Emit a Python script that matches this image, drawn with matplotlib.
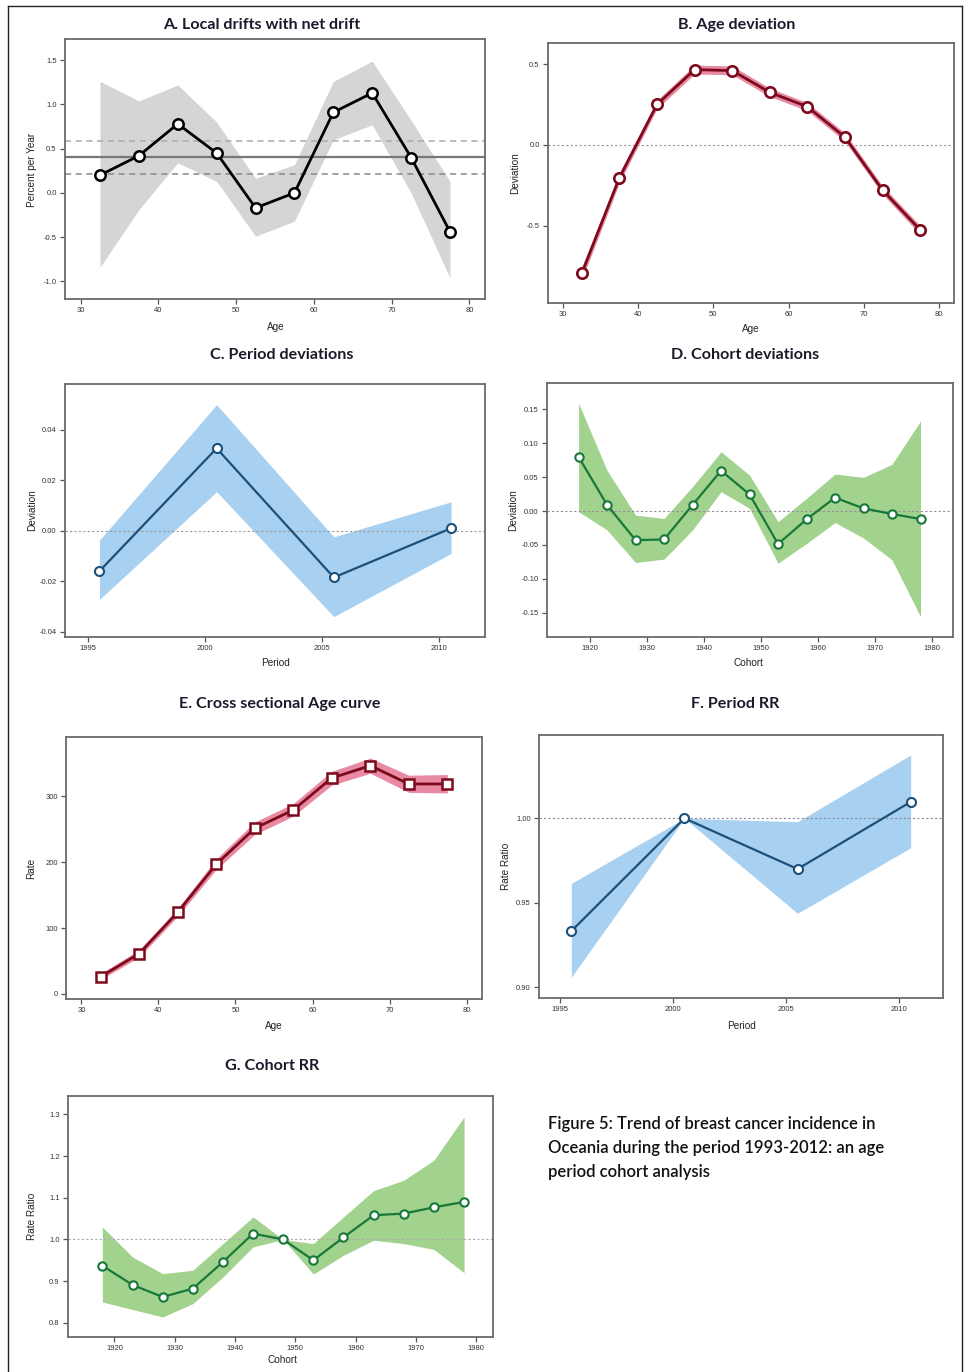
import matplotlib
matplotlib.use("Agg")
import matplotlib.pyplot as plt
from matplotlib.lines import Line2D

# ---------------- data ----------------
age = [32.5, 37.5, 42.5, 47.5, 52.5, 57.5, 62.5, 67.5, 72.5, 77.5]
local_drift = [0.20, 0.42, 0.78, 0.45, -0.17, 0.00, 0.91, 1.13, 0.40, -0.44]
local_drift_lo = [-0.84, -0.19, 0.34, 0.13, -0.49, -0.32, 0.60, 0.77, 0.00, -0.96]
local_drift_hi = [1.26, 1.04, 1.22, 0.80, 0.165, 0.32, 1.26, 1.49, 0.82, 0.13]
net_drift = [0.41, 0.215, 0.59]  # estimate, lower, upper

age_dev = [-0.795, -0.203, 0.251, 0.467, 0.461, 0.326, 0.237, 0.048, -0.280, -0.527]
age_dev_lo = [-0.835, -0.235, 0.225, 0.440, 0.435, 0.300, 0.212, 0.022, -0.305, -0.555]
age_dev_hi = [-0.755, -0.172, 0.278, 0.495, 0.490, 0.352, 0.262, 0.074, -0.255, -0.500]

period = [1995.5, 2000.5, 2005.5, 2010.5]
period_dev = [-0.016, 0.0327, -0.0185, 0.001]
period_dev_lo = [-0.0272, 0.0155, -0.034, -0.009]
period_dev_hi = [-0.0037, 0.050, -0.0024, 0.0115]

cohort = [1918, 1923, 1928, 1933, 1938, 1943, 1948, 1953, 1958, 1963, 1968, 1973, 1978]
cohort_dev = [0.080, 0.009, -0.043, -0.042, 0.009, 0.0595, 0.0246, -0.0487,
              -0.0123, 0.0197, 0.0039, -0.0044, -0.0118]
cohort_dev_lo = [-0.001, -0.028, -0.076, -0.071, -0.028, 0.0285, 0.004, -0.077,
                 -0.048, -0.017, -0.040, -0.072, -0.156]
cohort_dev_hi = [0.159, 0.060, -0.006, -0.011, 0.036, 0.0875, 0.053, -0.0158,
                 0.0187, 0.0546, 0.0497, 0.069, 0.133]

cs_rate = [26.3, 61.2, 124.0, 196.8, 251.4, 279.2, 327.8, 346.5, 318.7, 318.7]
cs_rate_lo = [22, 56, 118, 189, 242, 270, 317, 335, 306, 305]
cs_rate_hi = [31, 67, 130, 205, 261, 289, 338, 358, 332, 333]

period_rr = [0.9333, 1.0, 0.970, 1.0097]
period_rr_lo = [0.906, 1.0, 0.9438, 0.9826]
period_rr_hi = [0.9615, 1.0, 0.998, 1.0375]

cohort_rr = [0.937, 0.891, 0.862, 0.882, 0.946, 1.014, 1.000, 0.950,
             1.005, 1.058, 1.062, 1.077, 1.090]
cohort_rr_lo = [0.850, 0.832, 0.814, 0.846, 0.910, 0.982, 1.000, 0.917,
                0.962, 0.998, 0.990, 0.976, 0.920]
cohort_rr_hi = [1.030, 0.958, 0.918, 0.926, 0.990, 1.054, 1.000, 0.990,
                1.054, 1.117, 1.142, 1.190, 1.294]

caption = ["Figure 5: Trend of breast cancer incidence in",
           "Oceania during the period 1993-2012: an age",
           "period cohort analysis"]

# ---------------- style ----------------
W, H = 965, 1372
fig = plt.figure(figsize=(W / 100, H / 100), dpi=100)
fig.patch.set_facecolor("white")

TITLE_FONT = ["Lato", "DejaVu Sans"]
TICK_FONT = ["Liberation Sans", "DejaVu Sans"]

GRAY_BAND = "#d5d5d5"
RED_LINE, RED_BAND = "#7d0a1c", "#e88aa3"
BLUE_LINE, BLUE_BAND = "#1d5079", "#a8d0f0"
GREEN_LINE, GREEN_BAND = "#18783a", "#a2d38e"


def px_rect(l, t, r, b):
    return [l / W, 1 - b / H, (r - l) / W, (b - t) / H]


def fig_text(x, y, s, **kw):
    fig.text(x / W, 1 - y / H, s, **kw)


def make_axes(box, xlim, ylim, xticks, yticks, yfmt):
    ax = fig.add_axes(px_rect(*box))
    ax.set_xlim(*xlim)
    ax.set_ylim(*ylim)
    ax.set_xticks(xticks)
    ax.set_xticklabels([str(t) for t in xticks])
    ax.set_yticks(yticks)
    ax.set_yticklabels([yfmt.format(t) for t in yticks])
    for sp in ax.spines.values():
        sp.set_color("#6a6a6a")
        sp.set_linewidth(1.3)
    ax.tick_params(axis="both", direction="out", length=3.5, width=0.9,
                   color="#555555", labelsize=5.5, labelcolor="#333333", pad=2.5)
    for lab in ax.get_xticklabels() + ax.get_yticklabels():
        lab.set_family(TICK_FONT)
    return ax


def band_plot(ax, x, y, lo, hi, line_c, band_c, marker="o", ms=6.5, lw=1.6, mew=1.5):
    ax.fill_between(x, lo, hi, color=band_c, lw=0, zorder=1)
    ax.plot(x, y, color=line_c, lw=lw, marker=marker, ms=ms, mfc="white",
            mec=line_c, mew=mew, zorder=3)


def ref_line(ax, y, color="#9a9a9a"):
    ax.axhline(y, color=color, lw=0.8, ls=(0, (2, 2)), zorder=2)


def title(x, y, s):
    fig_text(x, y, s, ha="center", va="center", fontsize=11.6, fontweight="bold",
             family=TITLE_FONT, color="#1a1a2a")


def label(x, y, s, rot=0):
    fig_text(x, y, s, ha="center", va="center", fontsize=7.2, rotation=rot,
             family=TICK_FONT, color="#222222")


# ---------- A ----------
axA = make_axes((65, 39, 485, 299), (28, 82), (-1.2, 1.74), [30, 40, 50, 60, 70, 80],
                [-1.0, -0.5, 0.0, 0.5, 1.0, 1.5], "{:.1f}")
axA.fill_between(age, local_drift_lo, local_drift_hi, color=GRAY_BAND, lw=0, zorder=1)
axA.axhline(net_drift[0], color="#777777", lw=1.6, zorder=2)
axA.axhline(net_drift[1], color="#888888", lw=1.1, ls=(0, (4, 3)), zorder=2)
axA.axhline(net_drift[2], color="#aaaaaa", lw=1.1, ls=(0, (4, 3)), zorder=2)
axA.plot(age, local_drift, color="black", lw=2.0, marker="o", ms=7.5, mfc="white",
         mec="black", mew=1.8, zorder=3)
title(262, 25, "A. Local drifts with net drift")
label(276, 327, "Age")
label(32, 170, "Percent per Year", rot=90)

# ---------- B ----------
axB = make_axes((548, 43, 954, 303), (28, 82), (-0.98, 0.632), [30, 40, 50, 60, 70, 80],
                [-0.5, 0.0, 0.5], "{:.1f}")
ref_line(axB, 0.0)
band_plot(axB, age, age_dev, age_dev_lo, age_dev_hi, RED_LINE, RED_BAND, ms=7.5, lw=2.0, mew=1.9)
title(737, 25, "B. Age deviation")
label(751, 329, "Age")
label(515, 173, "Deviation", rot=90)

# ---------- C ----------
axC = make_axes((65, 384, 485, 637), (1994.03, 2011.95), (-0.0421, 0.0582),
                [1995, 2000, 2005, 2010], [-0.04, -0.02, 0.00, 0.02, 0.04], "{:.2f}")
ref_line(axC, 0.0)
band_plot(axC, period, period_dev, period_dev_lo, period_dev_hi, BLUE_LINE, BLUE_BAND)
title(282, 355, "C. Period deviations")
label(276, 663, "Period")
label(32, 510, "Deviation", rot=90)

# ---------- D ----------
axD = make_axes((547, 383, 953, 637), (1912.46, 1983.7), (-0.186, 0.189),
                [1920, 1930, 1940, 1950, 1960, 1970, 1980],
                [-0.15, -0.10, -0.05, 0.00, 0.05, 0.10, 0.15], "{:.2f}")
ref_line(axD, 0.0, color="#9a8aa0")
band_plot(axD, cohort, cohort_dev, cohort_dev_lo, cohort_dev_hi, GREEN_LINE, GREEN_BAND, ms=6)
title(745, 355, "D. Cohort deviations")
label(749, 663, "Cohort")
label(513, 510, "Deviation", rot=90)

# ---------- E ----------
axE = make_axes((66, 737, 482, 999), (28, 82), (-7.6, 390), [30, 40, 50, 60, 70, 80],
                [0, 100, 200, 300], "{:d}")
band_plot(axE, age, cs_rate, cs_rate_lo, cs_rate_hi, RED_LINE, RED_BAND, marker="s",
          ms=6.5, lw=2.0, mew=1.8)
title(280, 704, "E. Cross sectional Age curve")
label(274, 1026, "Age")
label(31, 868, "Rate", rot=90)

# ---------- F ----------
axF = make_axes((539, 735, 943, 998), (1994.07, 2011.93), (0.8937, 1.0493),
                [1995, 2000, 2005, 2010], [0.90, 0.95, 1.00], "{:.2f}")
ref_line(axF, 1.0, color="#8a8aa0")
band_plot(axF, period, period_rr, period_rr_lo, period_rr_hi, BLUE_LINE, BLUE_BAND)
title(735, 704, "F. Period RR")
label(741, 1026, "Period")
label(506, 866, "Rate Ratio", rot=90)

# ---------- G ----------
axG = make_axes((68, 1096, 493, 1337), (1912.3, 1982.8), (0.766, 1.344),
                [1920, 1930, 1940, 1950, 1960, 1970, 1980],
                [0.8, 0.9, 1.0, 1.1, 1.2, 1.3], "{:.1f}")
ref_line(axG, 1.0, color="#aaaaaa")
band_plot(axG, cohort, cohort_rr, cohort_rr_lo, cohort_rr_hi, GREEN_LINE, GREEN_BAND, ms=6)
title(272, 1066, "G. Cohort RR")
label(282, 1360, "Cohort")
label(32, 1216, "Rate Ratio", rot=90)

# ---------- caption ----------
for i, line in enumerate(caption):
    fig_text(548, 1124 + 24 * i, line, ha="left", va="center", fontsize=12,
             fontweight="semibold", family=TITLE_FONT, color="#111111")

# ---------- outer frame ----------
for xs, ys in [((8, 8), (6, H)), ((8, 962), (6, 6)), ((962, 962), (6, H))]:
    fig.add_artist(Line2D([x / W for x in xs], [1 - y / H for y in ys],
                          color="#222222", lw=1.0, transform=fig.transFigure))

fig.savefig("out.png", dpi=100, facecolor="white")
